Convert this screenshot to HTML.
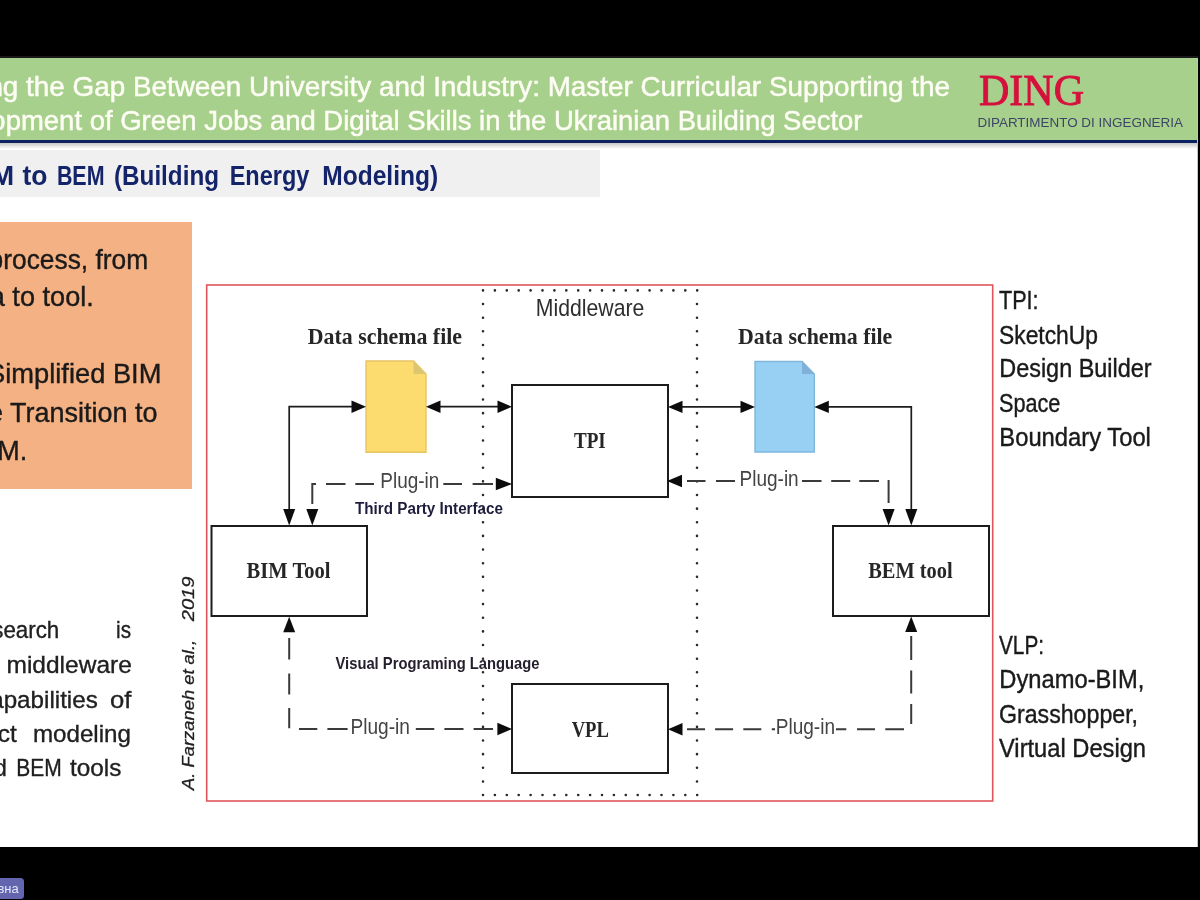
<!DOCTYPE html>
<html lang="en">
<head>
<meta charset="utf-8">
<title>From BIM to BEM (Building Energy Modeling)</title>
<style>
  html,body{margin:0;padding:0;}
  body{width:1200px;height:900px;overflow:hidden;background:#000;position:relative;font-family:"Liberation Sans",sans-serif;}
  .slide{position:absolute;left:0;top:58.2px;width:1196.5px;height:789px;background:#fff;overflow:hidden;}
  .edge{position:absolute;left:1196.5px;top:58.2px;width:1.8px;height:789px;background:#c4c4c4;}
  .hdr{position:absolute;left:0;top:0;width:1197px;height:82.3px;background:#a8d08d;}
  .hdrline{position:absolute;left:0;top:81.8px;width:1197px;height:3.3px;background:#0b2161;}
  .hdrshadow{position:absolute;left:0;top:85.1px;width:1197px;height:5.5px;background:linear-gradient(#c6c6c6,#ffffff);}
  .titlebar{position:absolute;left:0;top:92.1px;width:599.7px;height:47.2px;background:#f0f0f0;}
  .orange{position:absolute;left:0;top:163.6px;width:191.5px;height:267.2px;background:#f4b183;}
  .badge{position:absolute;left:-8px;top:877.7px;width:32.2px;height:21.2px;background:#6366ae;border-radius:3.5px;}
  svg.ov{position:absolute;left:0;top:0;width:1200px;height:900px;filter:blur(0.45px);}
  svg text{white-space:pre;}
  .sans{font-family:"Liberation Sans",sans-serif;}
  .serif{font-family:"Liberation Serif",serif;}
</style>
</head>
<body>
<div class="slide">
  <div class="hdr"></div>
  <div class="hdrline"></div>
  <div class="hdrshadow"></div>
  <div class="titlebar"></div>
  <div class="orange"></div>
</div>
<div class="edge"></div>
<div style="position:absolute;left:0;top:56px;width:1198.3px;height:2.2px;background:#19191b"></div>
<div class="badge"></div>

<svg class="ov" viewBox="0 0 1200 900">
  <defs>
    <clipPath id="slideclip"><rect x="0" y="57" width="1197" height="790"/></clipPath>
  </defs>
  <g clip-path="url(#slideclip)">
  <!-- header -->
  <g class="sans" fill="#fdfdf4" font-size="28.3" stroke="#fdfdf4" stroke-width="0.5">
    <text x="-83.8" y="96.3" textLength="1033.8" lengthAdjust="spacingAndGlyphs">Bridging the Gap Between University and Industry: Master Curricular Supporting the</text>
    <text x="-79.9" y="130" textLength="942.4" lengthAdjust="spacingAndGlyphs">Development of Green Jobs and Digital Skills in the Ukrainian Building Sector</text>
  </g>
  <text class="serif" x="979" y="104.5" font-size="44" fill="#d5103c" stroke="#d5103c" stroke-width="0.9" textLength="105" lengthAdjust="spacingAndGlyphs">DING</text>
  <text class="sans" x="977.5" y="127" font-size="13" fill="#3d4565" textLength="205.5" lengthAdjust="spacingAndGlyphs">DIPARTIMENTO DI INGEGNERIA</text>
  <!-- title -->
  <text class="sans" y="184.9" font-size="27.4" font-weight="bold" fill="#14246a"><tspan x="-112.6" textLength="126.7" lengthAdjust="spacingAndGlyphs">From BIM</tspan> <tspan x="22.4" textLength="25" lengthAdjust="spacingAndGlyphs">to</tspan> <tspan x="56.9" textLength="47.6" lengthAdjust="spacingAndGlyphs">BEM</tspan> <tspan x="114" textLength="105" lengthAdjust="spacingAndGlyphs">(Building</tspan> <tspan x="229.7" textLength="79.6" lengthAdjust="spacingAndGlyphs">Energy</tspan> <tspan x="322.2" textLength="116" lengthAdjust="spacingAndGlyphs">Modeling)</tspan></text>

  <!-- orange box text -->
  <g class="sans" fill="#1a1a1a" font-size="28" stroke="#1a1a1a" stroke-width="0.4">
    <text x="-141.8" y="268.5" textLength="290" lengthAdjust="spacingAndGlyphs">Simulation process, from</text>
    <text x="-90.2" y="306.3" textLength="184" lengthAdjust="spacingAndGlyphs">schema to tool.</text>
    <text x="-122.1" y="383" textLength="283.5" lengthAdjust="spacingAndGlyphs">Towards Simplified BIM</text>
    <text x="-73.5" y="421.7" textLength="231" lengthAdjust="spacingAndGlyphs">for the Transition to</text>
    <text x="-38.8" y="460" textLength="66" lengthAdjust="spacingAndGlyphs">BEM.</text>
  </g>

  <!-- lower-left paragraph -->
  <g class="sans" fill="#202020" font-size="24.5" stroke="#202020" stroke-width="0.35">
    <text y="638"><tspan x="-108.3" textLength="167.6" lengthAdjust="spacingAndGlyphs">Current research</tspan> <tspan x="116.1" textLength="15" lengthAdjust="spacingAndGlyphs">is</tspan></text>
    <text y="673.3"><tspan x="-120.2" textLength="252" lengthAdjust="spacingAndGlyphs">focused on middleware</tspan></text>
    <text y="707.6"><tspan x="-133.5" textLength="231.3" lengthAdjust="spacingAndGlyphs">extending capabilities</tspan> <tspan x="110" textLength="21.4" lengthAdjust="spacingAndGlyphs">of</tspan></text>
    <text y="741.8"><tspan x="-48.7" textLength="65.4" lengthAdjust="spacingAndGlyphs">object</tspan> <tspan x="32.9" textLength="98.1" lengthAdjust="spacingAndGlyphs">modeling</tspan></text>
    <text y="776.2"><tspan x="-106.0" textLength="113" lengthAdjust="spacingAndGlyphs">in BIM and</tspan> <tspan x="16.3" textLength="45.5" lengthAdjust="spacingAndGlyphs">BEM</tspan> <tspan x="70" textLength="51.4" lengthAdjust="spacingAndGlyphs">tools</tspan></text>
  </g>

  <!-- right notes -->
  <g class="sans" fill="#1a1a1a" font-size="25" stroke="#1a1a1a" stroke-width="0.4">
    <text x="999" y="309" textLength="39.6" lengthAdjust="spacingAndGlyphs">TPI:</text>
    <text x="999" y="343.6" textLength="99" lengthAdjust="spacingAndGlyphs">SketchUp</text>
    <text x="999.3" y="377.4" textLength="152.2" lengthAdjust="spacingAndGlyphs">Design Builder</text>
    <text x="999" y="412" textLength="61.4" lengthAdjust="spacingAndGlyphs">Space</text>
    <text x="999.3" y="446" textLength="151.6" lengthAdjust="spacingAndGlyphs">Boundary Tool</text>
    <text x="999" y="654" textLength="45" lengthAdjust="spacingAndGlyphs">VLP:</text>
    <text x="999.3" y="688.4" textLength="145" lengthAdjust="spacingAndGlyphs">Dynamo-BIM,</text>
    <text x="999" y="723" textLength="139" lengthAdjust="spacingAndGlyphs">Grasshopper,</text>
    <text x="999" y="757" textLength="147" lengthAdjust="spacingAndGlyphs">Virtual Design</text>
  </g>

  <!-- citation -->
  <g font-family="'Liberation Sans',sans-serif" font-style="italic" font-size="17.3" fill="#1f1f1f" stroke="#1f1f1f" stroke-width="0.3" transform="translate(193.6,789.9) rotate(-90)">
    <text x="0" y="0" textLength="150" lengthAdjust="spacingAndGlyphs">A. Farzaneh et al.,</text>
    <text x="168.6" y="0" textLength="44.8" lengthAdjust="spacingAndGlyphs">2019</text>
  </g>

  <!-- diagram -->
  <rect x="206.7" y="285" width="786" height="516" fill="none" stroke="#e0555c" stroke-width="1.6"/>
  <g fill="none" stroke="#2a2a2a" stroke-width="2.6" stroke-linecap="round">
    <path d="M483 290.4 H697.2" stroke-dasharray="0 11.9"/>
    <path d="M483 795 H697.2" stroke-dasharray="0 11.9"/>
    <path d="M483 304.04 V790" stroke-dasharray="0 13.64"/>
    <path d="M697 304.04 V790" stroke-dasharray="0 13.64"/>
  </g>
  <g fill="#fff" stroke="#1c1c1c" stroke-width="2">
    <rect x="512" y="385" width="156" height="112"/>
    <rect x="512" y="684" width="156" height="89"/>
    <rect x="211.5" y="526" width="155.5" height="90"/>
    <rect x="833" y="526" width="156" height="90"/>
  </g>
  <!-- files -->
  <path d="M366 361 H413.5 L426 374 V452.3 H366 Z" fill="#fddc6f" stroke="#e8c463" stroke-width="1.4"/>
  <path d="M413.5 361 V374 H426 Z" fill="#dcc670"/>
  <path d="M755 361.5 H802 L814.3 374 V452 H755 Z" fill="#98d0f3" stroke="#80b6de" stroke-width="1.4"/>
  <path d="M802 361.5 V374 H814.3 Z" fill="#7fb0d8"/>

  <!-- solid connectors -->
  <g fill="none" stroke="#1c1c1c" stroke-width="1.7">
    <path d="M360 406.7 H289.2 V520"/>
    <path d="M432 406.7 H506"/>
    <path d="M674 406.9 H749"/>
    <path d="M820 406.9 H911.3 V520"/>
  </g>
  <!-- dashed connectors -->
  <g fill="none" stroke="#3a3a3a" stroke-width="2">
    <path d="M312.3 504 V484 H316"/>
    <path d="M326 484 H345.5 M355.3 484 H374 M443.3 484 H462 M472.6 484 H493"/>
    <path d="M687 481 H705.5 M716 481 H735 M802 481 H821.5 M831.2 481 H850.2 M859.3 481 H879"/>
    <path d="M888.6 480 V503"/>
    <path d="M289.2 638 V659.5 M289.2 673.5 V694.5 M289.2 708 V728.3"/>
    <path d="M299 729 H317.3 M327.4 729 H347.6 M415.8 729 H434.3 M444.4 729 H463.5 M473.6 729 H493"/>
    <path d="M911.2 636 V660 M911.2 670.5 V693.5 M911.2 704 V724"/>
    <path d="M904 729.3 H885.3 M875 729.3 H857 M846.3 729.3 H836 M775 729.3 H771.8 M761.3 729.3 H743.3 M733.1 729.3 H715.1 M705 729.3 H687"/>
  </g>
  <!-- arrow heads -->
  <g fill="#0c0c0c">
    <path d="M366 406.7 l-14.5 -6.2 v12.4 z"/>
    <path d="M289.2 525.5 l-6 -16.5 h12 z"/>
    <path d="M426 406.7 l14.5 -6.2 v12.4 z"/>
    <path d="M512 406.7 l-14.5 -6.2 v12.4 z"/>
    <path d="M668 406.9 l14.5 -6.2 v12.4 z"/>
    <path d="M755 406.9 l-14.5 -6.2 v12.4 z"/>
    <path d="M814.3 406.9 l14.5 -6.2 v12.4 z"/>
    <path d="M911.3 525.5 l-6 -16.5 h12 z"/>
    <path d="M312.3 525.5 l-6 -16.5 h12 z"/>
    <path d="M512.3 484 l-16.5 -6.2 v12.4 z"/>
    <path d="M667 481 l15 -6.2 v12.4 z"/>
    <path d="M888.6 525.5 l-6 -16.5 h12 z"/>
    <path d="M289.2 616.8 l-6 15.5 h12 z"/>
    <path d="M512 729 l-14.6 -6.2 v12.4 z"/>
    <path d="M911.2 616.5 l-6 15.5 h12 z"/>
    <path d="M668 729.3 l14.5 -6.2 v12.4 z"/>
  </g>

  <!-- diagram labels -->
  <text class="sans" x="535.8" y="316" font-size="24" fill="#2e2e2e" textLength="108.5" lengthAdjust="spacingAndGlyphs">Middleware</text>
  <g class="serif" font-weight="bold" fill="#262626">
    <text x="307.8" y="344" font-size="23.5" textLength="154.2" lengthAdjust="spacingAndGlyphs">Data schema file</text>
    <text x="738" y="344" font-size="23.5" textLength="154.3" lengthAdjust="spacingAndGlyphs">Data schema file</text>
    <text x="574" y="447.5" font-size="22.5" textLength="31.8" lengthAdjust="spacingAndGlyphs">TPI</text>
    <text x="571.7" y="736.8" font-size="22.5" textLength="37.2" lengthAdjust="spacingAndGlyphs">VPL</text>
    <text x="246.5" y="578.2" font-size="22.5" textLength="84" lengthAdjust="spacingAndGlyphs">BIM Tool</text>
    <text x="868.2" y="578.2" font-size="22.5" textLength="84.4" lengthAdjust="spacingAndGlyphs">BEM tool</text>
  </g>
  <g class="sans" font-size="21.5" fill="#444">
    <text x="380.3" y="488.4" textLength="59" lengthAdjust="spacingAndGlyphs">Plug-in</text>
    <text x="739.5" y="485.6" textLength="59.2" lengthAdjust="spacingAndGlyphs">Plug-in</text>
    <text x="350.5" y="733.7" textLength="59.5" lengthAdjust="spacingAndGlyphs">Plug-in</text>
    <text x="775.8" y="733.7" textLength="59.2" lengthAdjust="spacingAndGlyphs">Plug-in</text>
  </g>
  <text class="sans" x="355" y="513.8" font-size="16.8" font-weight="bold" fill="#1e1e3c" textLength="148" lengthAdjust="spacingAndGlyphs">Third Party Interface</text>
  <text class="sans" x="335.5" y="669" font-size="16.5" font-weight="bold" fill="#26202e" textLength="204" lengthAdjust="spacingAndGlyphs">Visual Programing Language</text>
  </g>

  <!-- badge text -->
  <text class="sans" x="-2.6" y="893" font-size="13" fill="#e2e8f6">вна</text>
</svg>
</body>
</html>
